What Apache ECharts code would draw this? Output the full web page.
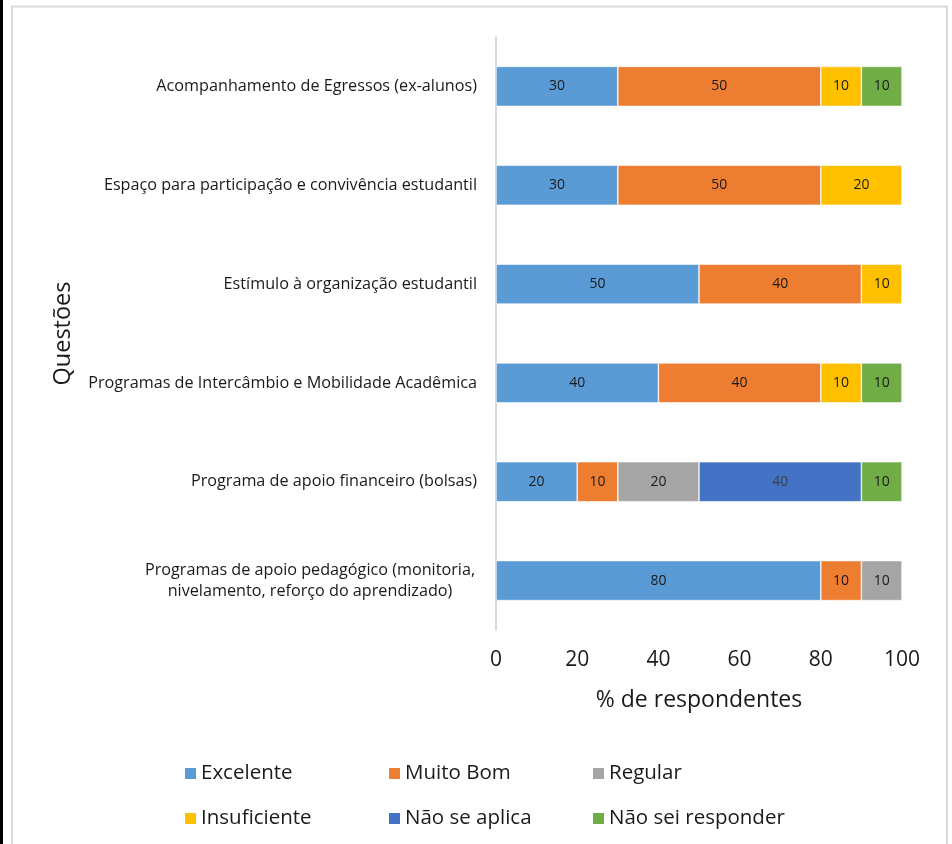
<!DOCTYPE html>
<html>
<head>
<meta charset="utf-8">
<script src="https://cdn.jsdelivr.net/npm/echarts@6/dist/echarts.min.js"></script>
<style>
html,body{margin:0;padding:0;background:#fff;}
#chart{width:952px;height:844px;}
</style>
</head>
<body>
<div id="chart"></div>
<script>
const categories = [
  'Programas de apoio pedagógico (monitoria,\nnivelamento, reforço do aprendizado)',
  'Programa de apoio financeiro (bolsas)',
  'Programas de Intercâmbio e Mobilidade Acadêmica',
  'Estímulo à organização estudantil',
  'Espaço para participação e convivência estudantil',
  'Acompanhamento de Egressos (ex-alunos)'
];
const seriesNames = ['Excelente', 'Muito Bom', 'Regular', 'Insuficiente', 'Não se aplica', 'Não sei responder'];
const excelente = [80, 20, 40, 50, 30, 30];
const muitoBom = [10, 10, 40, 40, 50, 50];
const regular = [10, 20, null, null, null, null];
const insuficiente = [null, null, 10, 10, 20, 10];
const naoSeAplica = [null, 40, null, null, null, null];
const naoSeiResponder = [null, 10, 10, null, null, 10];
const xTicks = [0, 20, 40, 60, 80, 100];

const colors = ['#5B9BD5', '#ED7D31', '#A5A5A5', '#FFC000', '#4472C4', '#70AD47'];
const values = [excelente, muitoBom, regular, insuficiente, naoSeAplica, naoSeiResponder];
const FONT = 'Open Sans';

const series = seriesNames.map((n, i) => ({
  name: n,
  type: 'bar',
  stack: 'total',
  barWidth: 40,
  data: values[i],
  itemStyle: { color: colors[i], borderColor: '#ffffff', borderWidth: 0.6 },
  label: {
    show: true,
    position: 'inside',
    fontFamily: FONT,
    fontSize: 14,
    color: i === 4 ? '#404040' : '#1a1a1a',
    formatter: p => (p.value == null ? '' : p.value)
  }
}));

const legendPos = [
  { left: 183, top: 763 }, { left: 387, top: 763 }, { left: 591, top: 763 },
  { left: 183, top: 808 }, { left: 387, top: 808 }, { left: 591, top: 808 }
];
const legends = seriesNames.map((n, i) => ({
  data: [n],
  left: legendPos[i].left,
  top: legendPos[i].top,
  itemWidth: 13,
  itemHeight: 13,
  itemGap: 0,
  padding: 0,
  icon: 'rect',
  textStyle: { fontFamily: FONT, fontSize: 20.5, color: '#1a1a1a', padding: [0, 0, 0, -1] },
  selectedMode: false
}));

const yData = categories.map((c, i) => i === 0
  ? { value: c, textStyle: { align: 'center', padding: [0, 334, 0, 0] } }
  : c);

const chart = echarts.init(document.getElementById('chart'));
chart.setOption({
  backgroundColor: '#ffffff',
  animation: false,
  color: colors,
  legend: legends,
  grid: { left: 496, right: 50, top: 37, bottom: 214, containLabel: false },
  xAxis: {
    type: 'value',
    min: 0, max: 100, interval: 20,
    axisLine: { show: false },
    axisTick: { show: false },
    splitLine: { show: false },
    axisLabel: {
      fontFamily: FONT, fontSize: 21, color: '#1a1a1a', margin: 20,
      formatter: v => (xTicks.indexOf(v) >= 0 ? String(v) : '')
    },
    name: '% de respondentes',
    nameLocation: 'middle',
    nameGap: 59,
    nameTextStyle: { fontFamily: FONT, fontSize: 23, color: '#1a1a1a' }
  },
  yAxis: {
    type: 'category',
    data: yData,
    axisLine: { show: true, lineStyle: { color: '#D9D9D9', width: 2 } },
    axisTick: { show: false },
    axisLabel: {
      fontFamily: FONT, fontSize: 16.2, color: '#1a1a1a', margin: 19, lineHeight: 21
    },
    name: 'Questões',
    nameLocation: 'middle',
    nameGap: 421,
    nameTextStyle: { fontFamily: FONT, fontSize: 23.5, color: '#1a1a1a' }
  },
  graphic: [
    { type: 'rect', shape: { x: 0, y: 0, width: 3, height: 844 }, style: { fill: '#000' }, silent: true },
    { type: 'rect', shape: { x: 12, y: 6.5, width: 935, height: 850 }, style: { fill: 'none', stroke: '#D9D9D9', lineWidth: 2 }, silent: true, z: -1 }
  ],
  series: series
});
</script>
</body>
</html>
